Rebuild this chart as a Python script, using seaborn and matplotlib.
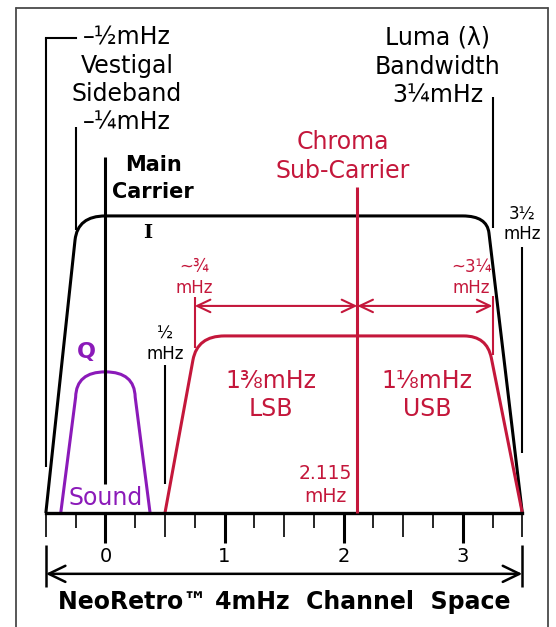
import matplotlib
matplotlib.use("Agg")
import matplotlib.pyplot as plt
from matplotlib.path import Path
from matplotlib.patches import PathPatch
from matplotlib.lines import Line2D
import seaborn as sns
import pandas as pd

# ---------------- data (x in mHz, y = relative amplitude, luma plateau = 1) -------------
luma_x = [-0.5, -0.255, -0.233, 0.0, 3.0, 3.203, 3.22, 3.5]
luma_y = [0.0, 0.919, 1.0, 1.0, 1.0, 1.0, 0.943, 0.0]

chroma_x = [0.5, 0.735, 0.772, 1.0, 3.01, 3.203, 3.24, 3.5]
chroma_y = [0.0, 0.515, 0.596, 0.596, 0.596, 0.596, 0.522, 0.0]

sound_x = [-0.375, -0.25, -0.245, 0.0, 0.245, 0.25, 0.375]
sound_y = [0.0, 0.39, 0.475, 0.475, 0.475, 0.39, 0.0]

main_carrier = 0.0
chroma_carrier = 2.115

channel_start = -0.5
channel_end = 3.5

major_ticks = [0, 1, 2, 3]
half_ticks = [-0.5, 0.5, 1.5, 2.5, 3.5]
quarter_ticks = [-0.25, 0.25, 0.75, 1.25, 1.75, 2.25, 2.75, 3.25]
tick_labels = ["0", "1", "2", "3"]

# black marker lines: x, y bottom, y top
marker_x = [-0.5, -0.25, 0.5, 3.5, 3.25]
marker_y0 = [0.155, 0.953, 0.098, 0.202, 0.96]
marker_y1 = [1.599, 1.30, 0.498, 0.896, 1.40]

# red sideband marker lines
sb_x = [0.75, 3.25]
sb_y0 = [0.556, 0.532]
sb_y1 = [0.727, 0.731]
sb_arrow_y = 0.697

RED = "#c4173b"
PURPLE = "#8b1ab9"
BLACK = "#000000"

# ---------------- figure --------------------------------------------------------------
sns.set_theme(style="white")
plt.rcParams["font.family"] = ["DejaVu Sans"]

fig = plt.figure(figsize=(5.56, 6.27), dpi=100)
ax = fig.add_axes([0, 0, 1, 1])
ax.set_xlim(-0.885, 3.783)
ax.set_ylim(-0.384, 1.727)
ax.axis("off")

# frame
fc = "#4a4a4a"
fig.add_artist(Line2D([0.0288, 0.0288], [-0.05, 0.987], color=fc, lw=1.3, transform=fig.transFigure))
fig.add_artist(Line2D([0.9856, 0.9856], [-0.05, 0.987], color=fc, lw=1.3, transform=fig.transFigure))
fig.add_artist(Line2D([0.0288, 0.9856], [0.987, 0.987], color=fc, lw=1.3, transform=fig.transFigure))


def shape(xs, ys, codes, color):
    p = Path(list(zip(xs, ys)), codes)
    ax.add_patch(PathPatch(p, fill=False, edgecolor=color, lw=2.2,
                           joinstyle="round", capstyle="butt", zorder=3))


M, L, C = Path.MOVETO, Path.LINETO, Path.CURVE3
shape(luma_x, luma_y, [M, L, C, C, L, C, C, L], BLACK)
shape(chroma_x, chroma_y, [M, L, C, C, L, C, C, L], RED)
shape(sound_x, sound_y, [M, L, C, C, C, C, L], PURPLE)

# baseline
base = pd.DataFrame({"x": [channel_start, channel_end], "y": [0.0, 0.0]})
sns.lineplot(data=base, x="x", y="y", ax=ax, color=BLACK, lw=2.4, zorder=4,
             solid_capstyle="projecting")

# ticks
ax.vlines(major_ticks, -0.101, 0, color=BLACK, lw=2.2, zorder=4)
ax.vlines(half_ticks, -0.081, 0, color=BLACK, lw=1.2, zorder=4)
ax.vlines(quarter_ticks, -0.0505, 0, color=BLACK, lw=1.2, zorder=4)
for t, lab in zip(major_ticks, tick_labels):
    ax.text(t, -0.145, lab, ha="center", va="center", fontsize=14, color=BLACK)

# carriers
ax.vlines([main_carrier], 0.098, 1.199, color=BLACK, lw=2.2, zorder=5)
ax.vlines([chroma_carrier], 0.0, 1.098, color=RED, lw=2.2, zorder=5)

# marker lines
ax.vlines(marker_x, marker_y0, marker_y1, color=BLACK, lw=1.5, zorder=4)
ax.plot([-0.5, -0.25], [1.599, 1.599], color=BLACK, lw=1.5, solid_capstyle="projecting")
ax.vlines(sb_x, sb_y0, sb_y1, color=RED, lw=1.5, zorder=4)

# red sideband arrows
arrow_red = dict(arrowstyle="<->,head_length=0.95,head_width=0.45", color=RED, lw=1.5,
                 shrinkA=0, shrinkB=0, mutation_scale=10)
ax.annotate("", xy=(sb_x[0], sb_arrow_y), xytext=(chroma_carrier, sb_arrow_y), arrowprops=arrow_red)
ax.annotate("", xy=(chroma_carrier, sb_arrow_y), xytext=(sb_x[1], sb_arrow_y), arrowprops=arrow_red)

# channel arrow
ax.vlines([channel_start, channel_end], -0.249, -0.108, color=BLACK, lw=1.8)
ax.annotate("", xy=(channel_start, -0.205), xytext=(channel_end, -0.205),
            arrowprops=dict(arrowstyle="<->,head_length=1.2,head_width=0.58", color=BLACK,
                            lw=1.8, shrinkA=0, shrinkB=0, mutation_scale=10))

# ---------------- texts ----------------------------------------------------------------
ax.text(0.18, 1.457, "\u2013\u00bdmHz\nVestigal\nSideband\n\u2013\u00bcmHz", ha="center",
        va="center", fontsize=17, linespacing=1.22, color=BLACK)
ax.text(2.79, 1.503, "Luma (\u03bb)\nBandwidth\n3\u00bcmHz", ha="center", va="center",
        fontsize=17, linespacing=1.24, color=BLACK)
ax.text(1.995, 1.20, "Chroma\nSub-Carrier", ha="center", va="center", fontsize=17,
        linespacing=1.22, color=RED)
ax.text(0.40, 1.126, "Main\nCarrier", ha="center", va="center", fontsize=15,
        fontweight="bold", linespacing=1.4, color=BLACK)
ax.text(0.357, 0.943, "I", ha="center", va="center", fontsize=14, fontweight="bold",
        family="DejaVu Serif", color=BLACK)
ax.text(-0.162, 0.542, "Q", ha="center", va="center", fontsize=16, fontweight="bold",
        color=PURPLE)
ax.text(0.0, 0.05, "Sound", ha="center", va="center", fontsize=17, color=PURPLE)
ax.text(1.39, 0.396, "1\u215cmHz\nLSB", ha="center", va="center", fontsize=17,
        linespacing=1.22, color=RED)
ax.text(2.70, 0.396, "1\u215bmHz\nUSB", ha="center", va="center", fontsize=17,
        linespacing=1.22, color=RED)
ax.text(0.745, 0.793, "~\u00be\nmHz", ha="center", va="center", fontsize=12,
        linespacing=1.22, color=RED)
ax.text(3.07, 0.793, "~3\u00bc\nmHz", ha="center", va="center", fontsize=12,
        linespacing=1.22, color=RED)
ax.text(0.50, 0.569, "\u00bd\nmHz", ha="center", va="center", fontsize=12,
        linespacing=1.22, color=BLACK)
ax.text(3.50, 0.973, "3\u00bd\nmHz", ha="center", va="center", fontsize=12,
        linespacing=1.22, color=BLACK)
ax.text(1.845, 0.094, "2.115\nmHz", ha="center", va="center", fontsize=13.5,
        linespacing=1.32, color=RED)
ax.text(1.50, -0.30, "NeoRetro\u2122 4mHz  Channel  Space", ha="center", va="center",
        fontsize=17, fontweight="bold", color=BLACK)

fig.savefig("out.png", dpi=100)
